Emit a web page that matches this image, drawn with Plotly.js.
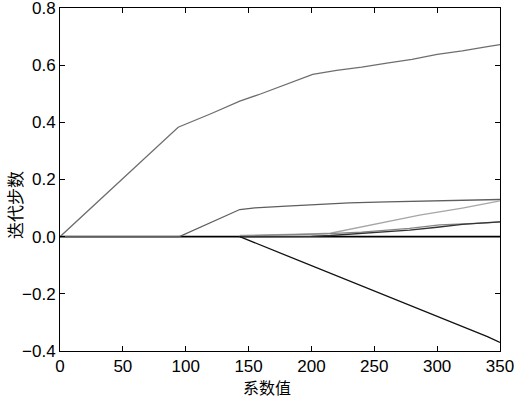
<!DOCTYPE html>
<html>
<head>
<meta charset="utf-8">
<script src="https://cdn.plot.ly/plotly-3.0.1.min.js"></script>
<style>html,body{margin:0;padding:0;background:#fff;}#chart{width:514px;height:398px;}</style>
</head>
<body>
<div id="chart"></div>
<script>
// Coefficient paths (x: 系数值, y: 迭代步数)
const pathA_x = [0, 94, 120, 143, 160, 175, 190, 201, 220, 240, 260, 280, 300, 320, 340, 350];
const pathA_y = [0, 0.383, 0.43, 0.474, 0.500, 0.525, 0.548, 0.568, 0.582, 0.593, 0.607, 0.620, 0.638, 0.650, 0.665, 0.672];

const pathB_x = [0, 95, 143, 155, 180, 200, 230, 260, 290, 320, 350];
const pathB_y = [0, 0, 0.095, 0.101, 0.107, 0.112, 0.118, 0.122, 0.125, 0.129, 0.130];

const pathC_x = [143, 170, 200, 215, 247, 286, 320, 350];
const pathC_y = [0.004, 0.008, 0.010, 0.012, 0.041, 0.075, 0.100, 0.125];

const pathD_x = [143, 180, 210, 240, 260, 278, 302, 320, 340, 350];
const pathD_y = [0.002, 0.006, 0.010, 0.016, 0.022, 0.029, 0.041, 0.044, 0.048, 0.052];

const pathE_x = [143, 200, 215, 240, 260, 278, 300, 320, 340, 350];
const pathE_y = [0, 0.001, 0.004, 0.012, 0.018, 0.023, 0.033, 0.043, 0.049, 0.052];

const pathF_x = [143, 170, 200, 230, 260, 290, 320, 340, 350];
const pathF_y = [0, -0.048, -0.100, -0.153, -0.208, -0.262, -0.315, -0.350, -0.370];

const pathZ_x = [0, 350];
const pathZ_y = [0, 0];

const xTicks = [0, 50, 100, 150, 200, 250, 300, 350];
const yTicks = [-0.4, -0.2, 0.0, 0.2, 0.4, 0.6, 0.8];
const xLabel = '系数值';
const yLabel = '迭代步数';

function tr(x, y, color, w) {
  return {x: x, y: y, type: 'scatter', mode: 'lines', line: {color: color, width: w}, hoverinfo: 'skip', cliponaxis: false};
}

const data = [
  tr(pathZ_x, pathZ_y, '#000000', 1.6),
  tr(pathA_x, pathA_y, '#6e6e6e', 1.3),
  tr(pathB_x, pathB_y, '#5e5e5e', 1.3),
  tr(pathC_x, pathC_y, '#a6a6a6', 1.3),
  tr(pathD_x, pathD_y, '#858585', 1.3),
  tr(pathE_x, pathE_y, '#333333', 1.3),
  tr(pathF_x, pathF_y, '#111111', 1.3)
];

const tickFont = {family: 'Liberation Sans, Arial, sans-serif', size: 17, color: '#000'};
const labelFont = {family: 'Noto Sans CJK SC', size: 16, color: '#000'};
const axisCommon = {
  showline: true, linecolor: '#000', linewidth: 1, mirror: 'ticks',
  ticks: 'inside', ticklen: 5, tickcolor: '#000', tickwidth: 1,
  showgrid: false, zeroline: false, tickfont: tickFont, ticklabeloverflow: 'allow'
};

const layout = {
  width: 514, height: 398,
  margin: {l: 60, r: 14, t: 8, b: 47},
  paper_bgcolor: '#fff', plot_bgcolor: '#fff',
  showlegend: false,
  xaxis: Object.assign({}, axisCommon, {
    range: [0, 350], tickvals: xTicks, ticktext: xTicks.map(String)
  }),
  yaxis: Object.assign({}, axisCommon, {
    range: [-0.40001, 0.80001], tickvals: yTicks, ticktext: yTicks.map(v => v.toFixed(1).replace('-', '\u2212'))
  }),
  annotations: [
    {text: xLabel, xref: 'paper', yref: 'paper', x: (267 - 60) / 440, y: -(387 - 351) / 343,
     xanchor: 'center', yanchor: 'middle', showarrow: false, font: labelFont, height: 18, borderpad: 0},
    {text: yLabel, xref: 'paper', yref: 'paper', x: -(60 - 14) / 440, y: (351 - 205) / 343,
     xanchor: 'center', yanchor: 'middle', showarrow: false, textangle: -90, font: {family: 'Noto Sans CJK SC', size: 17, color: '#000'}}
  ]
};

Plotly.newPlot('chart', data, layout, {staticPlot: true, displayModeBar: false});
</script>
</body>
</html>
